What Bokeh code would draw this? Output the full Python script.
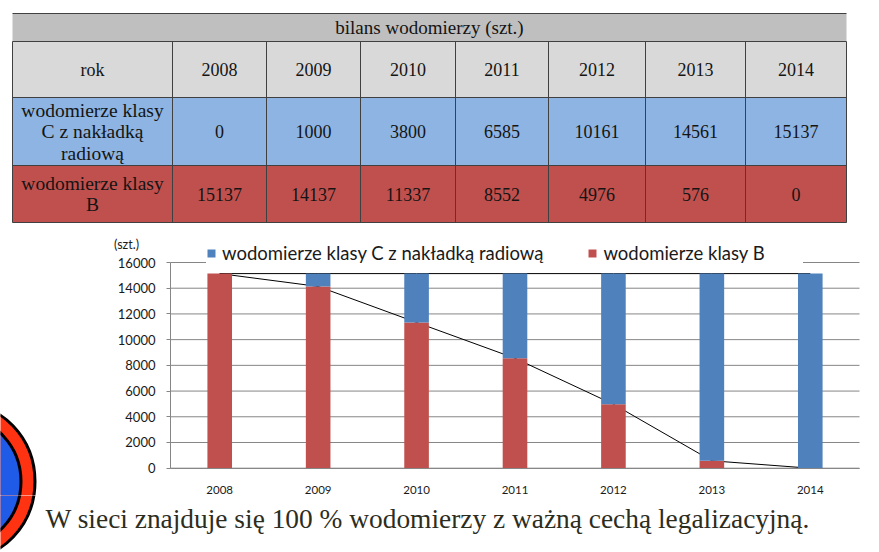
from bokeh.plotting import figure
from bokeh.layouts import column
from bokeh.models import (ColumnDataSource, Range1d, Legend, LegendItem, FixedTicker)
from bokeh.core.properties import value
from bokeh.embed import file_html
from bokeh.resources import INLINE

# ---------------- data ----------------
years = ["2008", "2009", "2010", "2011", "2012", "2013", "2014"]
klasa_c = [0, 1000, 3800, 6585, 10161, 14561, 15137]
klasa_b = [15137, 14137, 11337, 8552, 4976, 576, 0]
table_title = "bilans wodomierzy (szt.)"
header_label = "rok"
row_label_c = ["wodomierze klasy", "C z nakładką", "radiową"]
row_label_b = ["wodomierze klasy", "B"]
legend_c = "wodomierze klasy C z nakładką radiową"
legend_b = "wodomierze klasy B"
unit_label = "(szt.)"
y_ticks = [0, 2000, 4000, 6000, 8000, 10000, 12000, 14000, 16000]
footer = "W sieci znajduje się 100 % wodomierzy z ważną cechą legalizacyjną."

# ---------------- styles / layout ----------------
RED = "#C0504D"
BLUE = "#4F81BD"
T_BLUE = "#8DB4E2"
T_HEAD = "#D9D9D9"
T_TITLE = "#BFBFBF"
T_LINE = "#404040"
GRID = "#868686"
SERIF = "Liberation Serif"
SANS = "Lato"
W = 879
Y_TABLE, Y_CHART, Y_END = 232, 495, 552   # vertical bands of the page (px)


def band_figure(y_top, y_bottom, **kw):
    f = figure(width=W, height=y_bottom - y_top, toolbar_location=None, output_backend="svg",
               min_border_left=0, min_border_right=0, min_border_top=0, min_border_bottom=0,
               **kw)
    f.extra_x_ranges = {"px": Range1d(0, W)}
    f.extra_y_ranges = {"px": Range1d(y_bottom, y_top)}
    f.outline_line_color = None
    f.grid.visible = False
    return f


PX = dict(x_range_name="px", y_range_name="px")

# ---------------- table ----------------
tfig = band_figure(0, Y_TABLE, x_range=Range1d(0, W), y_range=Range1d(Y_TABLE, 0),
                   x_axis_location=None, y_axis_location=None)
col_edges = [12, 172, 266, 360, 455, 548, 645, 745, 846]
row_edges = [13, 41, 97, 165, 222]
L, R = col_edges[0], col_edges[-1]
tfig.quad(left=[L] * 4, right=[R] * 4, top=row_edges[:-1], bottom=row_edges[1:],
          fill_color=[T_TITLE, T_HEAD, T_BLUE, RED], line_color=None, **PX)
tfig.segment(x0=[L] * len(row_edges), x1=[R] * len(row_edges), y0=row_edges, y1=row_edges,
             line_color=T_LINE, line_width=1, **PX)
tfig.segment(x0=col_edges, x1=col_edges, y0=[row_edges[1]] * len(col_edges),
             y1=[row_edges[-1]] * len(col_edges), line_color=T_LINE, line_width=1, **PX)

ccx = [(a + b) / 2 for a, b in zip(col_edges[:-1], col_edges[1:])]
rcy = [(a + b) / 2 for a, b in zip(row_edges[:-1], row_edges[1:])]
LH = 21.5
cells_x, cells_y, cells_t, cells_s = [], [], [], []


def add(xv, yv, t, s):
    cells_x.append(xv); cells_y.append(yv); cells_t.append(t); cells_s.append(s)


add((L + R) / 2, rcy[0], table_title, "19px")
for xv, t in zip(ccx, [header_label] + years):
    add(xv, rcy[1], t, "18px")
for i, t in enumerate(row_label_c):
    add(ccx[0], rcy[2] + (i - (len(row_label_c) - 1) / 2) * LH, t, "19.5px")
for i, t in enumerate(row_label_b):
    add(ccx[0], rcy[3] + (i - (len(row_label_b) - 1) / 2) * LH, t, "19.5px")
for xv, v in zip(ccx[1:], klasa_c):
    add(xv, rcy[2], str(v), "18px")
for xv, v in zip(ccx[1:], klasa_b):
    add(xv, rcy[3], str(v), "18px")
tsrc = ColumnDataSource(dict(x=cells_x, y=cells_y, t=cells_t, s=cells_s))
tfig.text(x="x", y="y", text="t", text_font_size="s", source=tsrc, text_font=value(SERIF),
          text_align="center", text_baseline="middle", text_color="#141414", **PX)

# ---------------- chart ----------------
CH_X0, CH_X1 = 170, 859          # left / right of the plotting area (px)
CH_Y0, CH_YTOP = 467.7, 262.0    # pixel rows of 0 and of the top tick
n = len(years)
unit_x = (CH_X1 - CH_X0) / n
k = y_ticks[-1] / (CH_Y0 - CH_YTOP)
p = band_figure(Y_TABLE, Y_CHART,
                x_range=Range1d(-0.5 - CH_X0 / unit_x, -0.5 + (W - CH_X0) / unit_x),
                y_range=Range1d((CH_Y0 - Y_CHART) * k, (CH_Y0 - Y_TABLE) * k))

# decoration (upper part)
DECO = dict(x=[-40], y=[481])
p.ellipse(width=[149], height=[157], fill_color="#FF3311", line_color="black",
          line_width=3, **DECO, **PX)
p.ellipse(width=[121], height=[129], fill_color="#1F5BE6", line_color="black",
          line_width=3, **DECO, **PX)

xs = list(range(n))
src = ColumnDataSource(dict(x=xs, b=klasa_b, c=klasa_c,
                            total=[b + c for b, c in zip(klasa_b, klasa_c)]))
p.segment(x0=[-0.5] * len(y_ticks), x1=[n - 0.5] * len(y_ticks), y0=y_ticks, y1=y_ticks,
          line_color=GRID, line_width=1)
p.line(x="x", y="b", source=src, line_color="black", line_width=1)
p.line(x="x", y="total", source=src, line_color="black", line_width=1)
rs = p.vbar_stack(["b", "c"], x="x", width=0.25, source=src,
                  color=[RED, BLUE], line_color=None)

xa, ya = p.xaxis[0], p.yaxis[0]
ya.fixed_location = -0.5
ya.bounds = (0, y_ticks[-1])
ya.ticker = FixedTicker(ticks=y_ticks)
ya.axis_line_color = GRID
ya.major_tick_line_color = GRID
ya.major_tick_out = 4
ya.major_tick_in = 0
ya.minor_tick_line_color = None
ya.major_label_standoff = 11
ya.major_label_text_font = SANS
ya.major_label_text_font_size = "13px"
ya.major_label_text_color = "#1a1a1a"

xa.fixed_location = 0
xa.bounds = (-0.5, n - 0.5)
xa.ticker = FixedTicker(ticks=xs)
xa.major_label_overrides = {i: y for i, y in zip(xs, years)}
xa.axis_line_color = GRID
xa.major_tick_line_color = None
xa.minor_tick_line_color = None
xa.major_label_standoff = 12
xa.major_label_text_font = SANS
xa.major_label_text_font_size = "11.5px"
xa.major_label_text_color = "#1a1a1a"

legend = Legend(items=[LegendItem(label=legend_c, renderers=[rs[1]]),
                       LegendItem(label=legend_b, renderers=[rs[0]])],
                orientation="horizontal", location=(206, Y_CHART - 264),
                glyph_width=10, glyph_height=10, label_standoff=6, spacing=44,
                label_width=200, padding=3, margin=0, border_line_color=None,
                background_fill_color="white", background_fill_alpha=1,
                label_text_font=SANS, label_text_font_size="18.5px",
                label_text_color="#1a1a1a")
p.add_layout(legend)
p.text(x=[126], y=[244], text=[unit_label], text_font=value(SANS), text_font_size="12.5px",
       text_align="center", text_baseline="middle", text_color="#1a1a1a", **PX)

# ---------------- footer ----------------
ffig = band_figure(Y_CHART, Y_END, x_range=Range1d(0, W), y_range=Range1d(Y_END, Y_CHART),
                   x_axis_location=None, y_axis_location=None)
ffig.ellipse(width=[149], height=[157], fill_color="#FF3311", line_color="black",
             line_width=3, **DECO, **PX)
ffig.ellipse(width=[121], height=[129], fill_color="#1F5BE6", line_color="black",
             line_width=3, **DECO, **PX)
ffig.text(x=[45], y=[518], text=[footer], text_font=value(SERIF), text_font_size="27.4px",
          text_align="left", text_baseline="middle", text_color="#2D2D1E", **PX)

layout = column(tfig, p, ffig)
open("out.html", "w").write(file_html(layout, INLINE, title="bilans wodomierzy"))
